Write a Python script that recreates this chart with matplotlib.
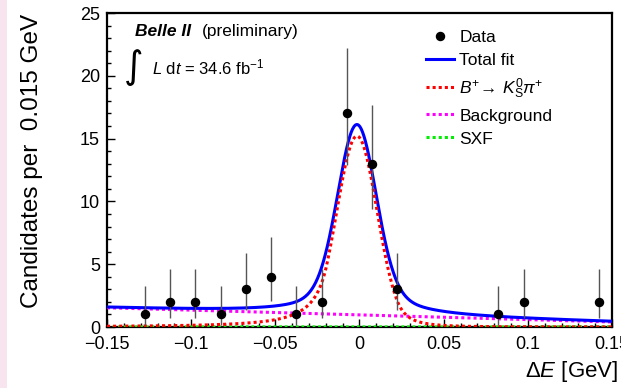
import numpy as np
import matplotlib
matplotlib.use("Agg")
import matplotlib.pyplot as plt
from matplotlib.lines import Line2D
from matplotlib.patches import Rectangle

plt.rcParams['font.family'] = ['Liberation Sans', 'DejaVu Sans']
plt.rcParams['mathtext.fontset'] = 'custom'
plt.rcParams['mathtext.rm'] = 'Liberation Sans'
plt.rcParams['mathtext.it'] = 'Liberation Sans:italic'
plt.rcParams['mathtext.bf'] = 'Liberation Sans:bold'

# ---- data (bin centres, counts, Poisson 68% intervals) ----
bin_centers = [-0.1275, -0.1125, -0.0975, -0.0825, -0.0675, -0.0525, -0.0375,
               -0.0225, -0.0075, 0.0075, 0.0225, 0.0825, 0.0975, 0.1425]
counts = [1, 2, 2, 1, 3, 4, 1, 2, 17, 13, 3, 1, 2, 2]
err_low = [0.83, 1.29, 1.29, 0.83, 1.63, 1.91, 0.83, 1.29, 4.1, 3.6, 1.63, 0.83, 1.29, 1.29]
err_high = [2.3, 2.64, 2.64, 2.3, 2.92, 3.16, 2.3, 2.64, 5.25, 4.7, 2.92, 2.3, 2.64, 2.64]

# ---- fit component parameters ----
sig_peak = 15.2      # red signal peak height
sig_mean = -0.0015
sig_sigma = 0.012
alpha_l, n_l = 1.5, 2.0
alpha_r, n_r = 2.0, 3.0
tot_core = 11.55     # blue total-fit gaussian core
tot_core_sigma = 0.0112
tot_tail = 3.6       # blue total-fit wide tail
tot_tail_gamma = 0.02
bkg_at0 = 0.965
bkg_slope = -3.77
sxf_level = 0.02

x = np.linspace(-0.15, 0.15, 1200)


def dcb(xv):
    t = (xv - sig_mean) / sig_sigma
    out = np.exp(-0.5 * t ** 2)
    A = (n_l / alpha_l) ** n_l * np.exp(-alpha_l ** 2 / 2)
    B = n_l / alpha_l - alpha_l
    m = t < -alpha_l
    out[m] = A * (B - t[m]) ** (-n_l)
    A2 = (n_r / alpha_r) ** n_r * np.exp(-alpha_r ** 2 / 2)
    B2 = n_r / alpha_r - alpha_r
    m2 = t > alpha_r
    out[m2] = A2 * (B2 + t[m2]) ** (-n_r)
    return sig_peak * out


bkg = bkg_at0 + bkg_slope * x
signal = dcb(x)
total = (bkg + tot_core * np.exp(-0.5 * ((x - sig_mean) / tot_core_sigma) ** 2)
         + tot_tail / (1 + ((x - sig_mean) / tot_tail_gamma) ** 2))
sxf = np.full_like(x, sxf_level)

W, H = 621, 388
fig = plt.figure(figsize=(W / 100, H / 100), dpi=100)
fig.patches.append(Rectangle((0, 0), 7 / W, 1, transform=fig.transFigure,
                             facecolor='#f7e4ee', edgecolor='none', zorder=-1))
ax = fig.add_axes([107 / W, 1 - 327 / H, (612 - 107) / W, (327 - 13) / H])

ax.plot(x, sxf, color='#00ee00', lw=2.0, ls=(0, (1, 1)), zorder=3)
ax.plot(x, bkg, color='#ff00ff', lw=2.2, ls=(0, (1, 1)), zorder=3)
ax.plot(x, total, color='#0000ff', lw=2.2, zorder=4)
ax.plot(x, signal, color='#ff0000', lw=2.2, ls=(0, (1, 1)), zorder=5)
ax.errorbar(bin_centers, counts, yerr=[err_low, err_high], fmt='o', color='black',
            ecolor='#555555', elinewidth=1.0, markersize=5.8, capsize=0, zorder=6)

ax.set_xlim(-0.15, 0.15)
ax.set_ylim(0, 25)
ax.set_xticks([-0.15, -0.1, -0.05, 0, 0.05, 0.1, 0.15])
ax.set_xticklabels(['\u22120.15', '\u22120.1', '\u22120.05', '0', '0.05', '0.1', '0.15'])
ax.set_xticks(np.arange(-0.15, 0.1501, 0.01), minor=True)
ax.set_yticks([0, 5, 10, 15, 20, 25])
ax.set_yticks(np.arange(0, 25.01, 1), minor=True)
ax.tick_params(which='both', direction='in', top=False, right=False, labelsize=13,
               width=1.0, colors='black')
ax.tick_params(which='major', length=6, pad=5)
ax.tick_params(axis='x', which='major', pad=6.5)
ax.tick_params(which='minor', length=3)
for s in ax.spines.values():
    s.set_linewidth(1.6)

fig.text(32 / W, 1 - 161 / H, 'Candidates per  0.015 GeV', rotation=90,
         ha='center', va='center', fontsize=17.5)
fig.text(618 / W, 1 - 372 / H, r'$\Delta E$ [GeV]', ha='right', va='center', fontsize=16)

ax.text(0.055, 0.941, 'Belle II', transform=ax.transAxes, fontsize=12.5,
        fontweight='bold', fontstyle='italic', va='center', ha='left')
ax.text(0.187, 0.941, '(preliminary)', transform=ax.transAxes, fontsize=12.5,
        va='center', ha='left')
ax.text(0.052, 0.826, '\u222b', transform=ax.transAxes, fontsize=27,
        family='DejaVu Sans', va='center', ha='center')
ax.text(0.09, 0.825, r'$L$ d$t$ = 34.6 fb$^{-1}$', transform=ax.transAxes,
        fontsize=12, va='center', ha='left')

handles = [
    Line2D([], [], marker='o', color='black', ls='none', markersize=5.8),
    Line2D([], [], color='#0000ff', lw=2.2),
    Line2D([], [], color='#ff0000', lw=2.2, ls=(0, (1, 1))),
    Line2D([], [], color='#ff00ff', lw=2.2, ls=(0, (1, 1))),
    Line2D([], [], color='#00ee00', lw=2.2, ls=(0, (1, 1))),
]
labels = ['Data', 'Total fit', r'$B^{+}\!\rightarrow\, K^{0}_{\mathrm{S}}\pi^{+}$',
          'Background', 'SXF']
ax.legend(handles, labels, loc='upper left', bbox_to_anchor=(0.632, 0.945),
          frameon=False, fontsize=12.5, borderpad=0, borderaxespad=0,
          handlelength=1.6, handletextpad=0.3, labelspacing=0.45)

fig.savefig('out.png', dpi=100)
